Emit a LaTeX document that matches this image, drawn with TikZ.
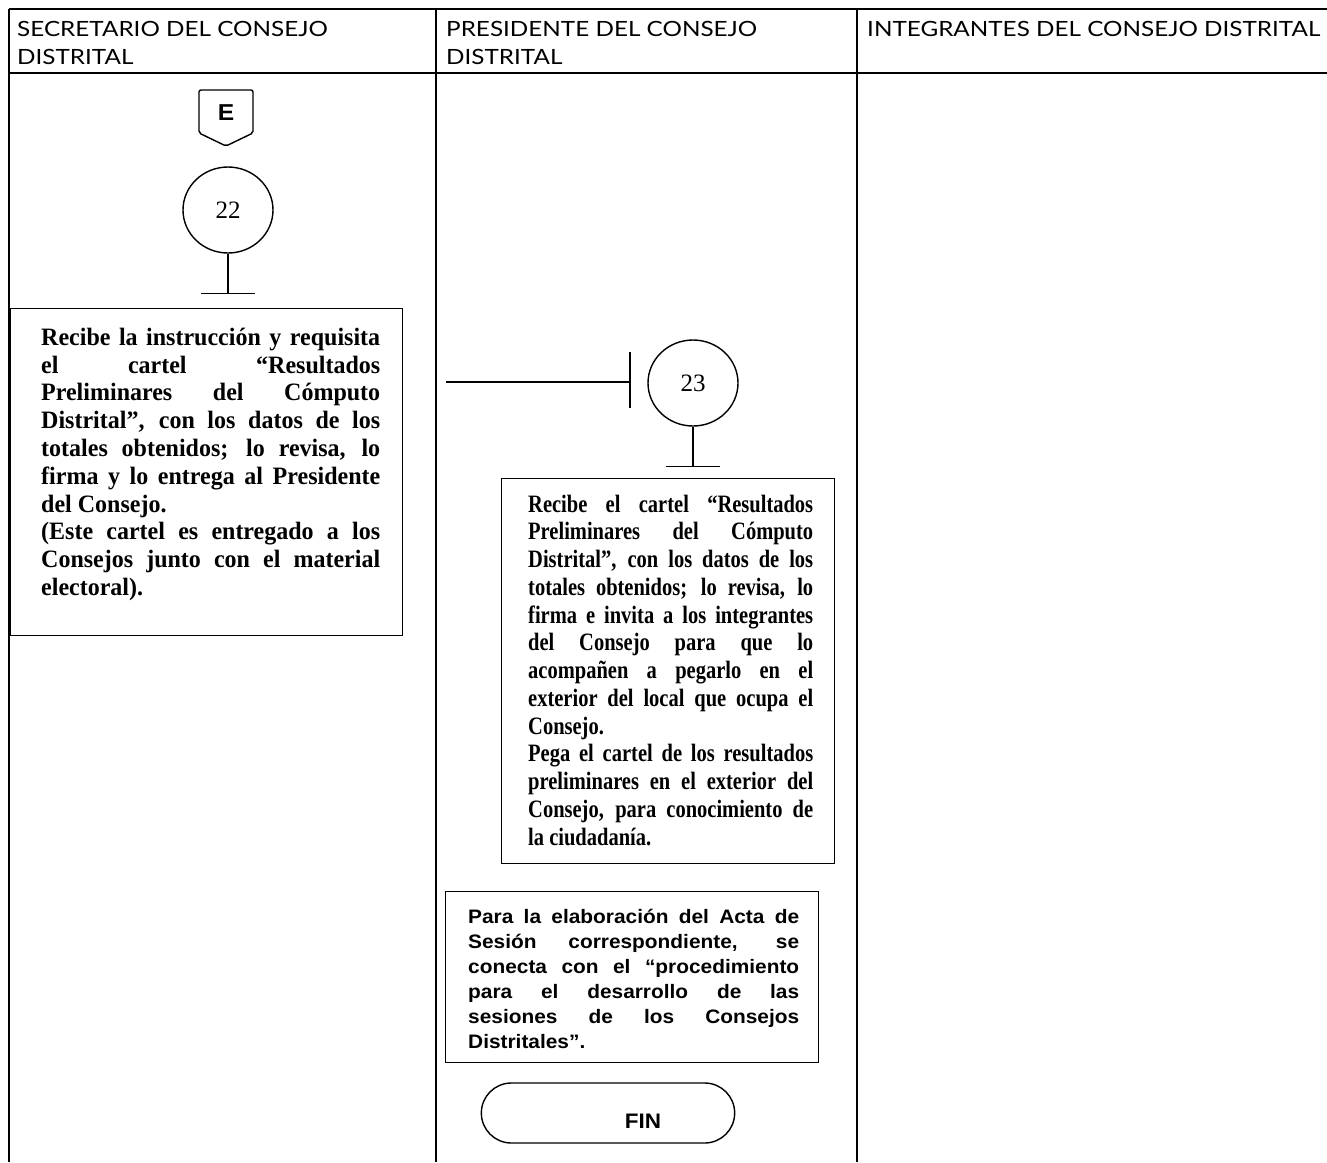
\documentclass[tikz,border=0pt]{standalone}
\usepackage{fontspec}
\setmainfont{Liberation Serif}
\newfontfamily\hdrfont[FakeStretch=1.155]{Lato}
\newfontfamily\serifwide[FakeStretch=0.96]{Liberation Serif}
\newfontfamily\serifnarrow[FakeStretch=0.82]{Liberation Serif}
\newfontfamily\sansb[FakeStretch=1.07]{Liberation Sans}
\usetikzlibrary{shapes.geometric,shapes.misc,calc}
\newcommand\JL[2]{\makebox[#1][s]{#2}}
\tikzset{
  rule/.style={line width=1.4pt},
  hdr/.style={anchor=north west, inner sep=0pt, align=left, font=\hdrfont\fontsize{21}{28}\selectfont},
  procbox/.style={draw, rule, anchor=north west, inner sep=0pt},
  txt/.style={anchor=north west, inner sep=0pt, align=left},
  numcircle/.style={draw, rule, ellipse, minimum width=90pt, minimum height=86pt, inner sep=0pt, font=\fontsize{25}{25}\selectfont},
  stem/.style={rule},
}
\begin{document}
\begin{tikzpicture}[x=1pt,y=-1pt]
\useasboundingbox (0,0) rectangle (1327,1162);
% table
\draw[rule] (9,9) -- (1327,9);
\draw[rule] (9,73) -- (1327,73);
\draw[rule] (9,9) -- (9,1162);
\draw[rule] (436,9) -- (436,1162);
\draw[rule] (857,9) -- (857,1162);
% headers
\node[hdr] (h1) at (17,18) {\rule{0pt}{18pt}SECRETARIO DEL CONSEJO\\DISTRITAL};
\node[hdr] (h2) at (446,18) {\rule{0pt}{18pt}PRESIDENTE DEL CONSEJO\\DISTRITAL};
\node[hdr] (h3) at (867,18) {\rule{0pt}{18pt}INTEGRANTES DEL CONSEJO DISTRITAL};
% off-page connector E
\draw[rule, rounded corners=2pt] (199,90) -- (253,90) -- (253,133) -- (226,146) -- (199,133) -- cycle;
\node[font=\sansb\bfseries\fontsize{23}{23}\selectfont] (E) at (226,113) {E};
% activity 22
\node[numcircle] (c22) at (228,210) {22};
\draw[stem] (c22.south) -- ++(0,40) coordinate (t22);
\draw[stem] ($(t22)+(-27,0)$) -- ($(t22)+(27,0)$);
% box 1
\node[procbox, minimum width=392pt, minimum height=327pt] (b1) at (10,308) {};
\node[txt, font=\serifwide\bfseries\fontsize{25}{27.8}\selectfont] (t1) at (41,325) {%
\rule{0pt}{20pt}\JL{339pt}{Recibe la instrucción y requisita}\\
\JL{339pt}{el cartel “Resultados}\\
\JL{339pt}{Preliminares del Cómputo}\\
\JL{339pt}{Distrital”, con los datos de los}\\
\JL{339pt}{totales obtenidos; lo revisa, lo}\\
\JL{339pt}{firma y lo entrega al Presidente}\\
del Consejo.\\
\JL{339pt}{(Este cartel es entregado a los}\\
\JL{339pt}{Consejos junto con el material}\\
electoral).};
% connector into 23
\coordinate (a23) at (446,382);
\coordinate (b23) at (630,382);
\draw[stem] (a23) -- (b23);
\draw[stem] ($(b23)+(0,-30)$) -- ($(b23)+(0,26)$);
% activity 23
\node[numcircle] (c23) at (693,383) {23};
\draw[stem] (c23.south) -- ++(0,40) coordinate (t23);
\draw[stem] ($(t23)+(-27,0)$) -- ($(t23)+(27,0)$);
% box 2
\node[procbox, minimum width=333pt, minimum height=385pt] (b2) at (501,478) {};
\node[txt, font=\serifnarrow\bfseries\fontsize{25}{27.75}\selectfont] (t2) at (528,492) {%
\rule{0pt}{20pt}\JL{285pt}{Recibe el cartel “Resultados}\\
\JL{285pt}{Preliminares del Cómputo}\\
\JL{285pt}{Distrital”, con los datos de los}\\
\JL{285pt}{totales obtenidos; lo revisa, lo}\\
\JL{285pt}{firma e invita a los integrantes}\\
\JL{285pt}{del Consejo para que lo}\\
\JL{285pt}{acompañen a pegarlo en el}\\
\JL{285pt}{exterior del local que ocupa el}\\
Consejo.\\
\JL{285pt}{Pega el cartel de los resultados}\\
\JL{285pt}{preliminares en el exterior del}\\
\JL{285pt}{Consejo, para conocimiento de}\\
la ciudadanía.};
% box 3
\node[procbox, minimum width=373pt, minimum height=171pt] (b3) at (445,891) {};
\node[txt, font=\sansb\bfseries\fontsize{19.5}{25}\selectfont] (t3) at (468,907) {%
\rule{0pt}{16pt}\JL{331pt}{Para la elaboración del Acta de}\\
\JL{331pt}{Sesión correspondiente, se}\\
\JL{331pt}{conecta con el “procedimiento}\\
\JL{331pt}{para el desarrollo de las}\\
\JL{331pt}{sesiones de los Consejos}\\
Distritales”.};
% terminator
\node[draw, rule, rounded rectangle, minimum width=260pt, minimum height=60pt] (fin) at (608,1113) {};
\node[font=\sansb\bfseries\fontsize{21}{21}\selectfont] (finlbl) at (643,1121) {FIN};
\end{tikzpicture}
\end{document}
